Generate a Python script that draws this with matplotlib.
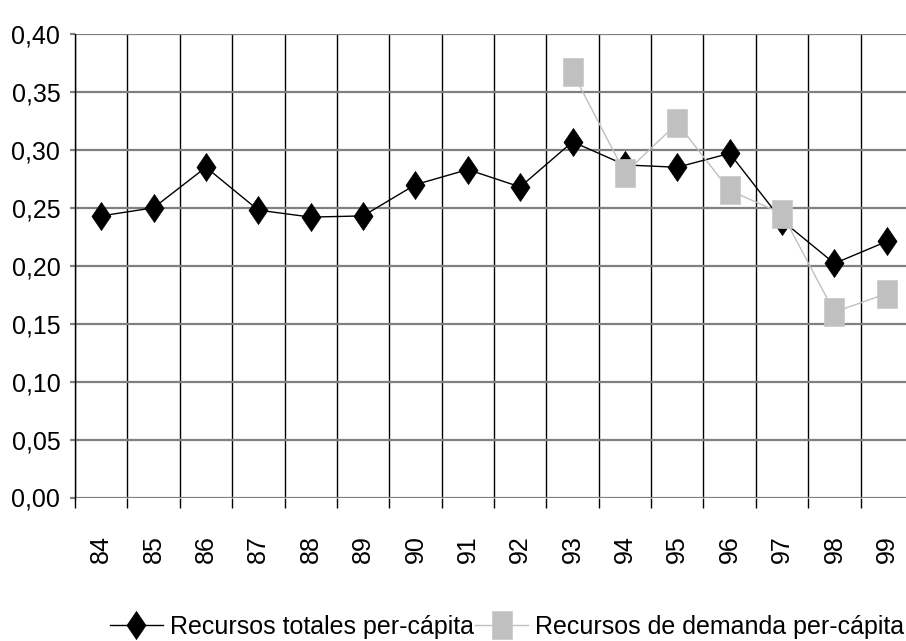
import numpy as np
import matplotlib
matplotlib.use("Agg")
import matplotlib.pyplot as plt
from matplotlib.path import Path

plt.rcParams['font.family'] = ['Liberation Sans', 'DejaVu Sans']

# ---- data ----
years = ["84", "85", "86", "87", "88", "89", "90", "91", "92", "93", "94", "95", "96", "97", "98", "99"]
totales = [0.243, 0.250, 0.285, 0.248, 0.242, 0.243, 0.270, 0.283, 0.268, 0.307, 0.287, 0.285, 0.297, 0.239, 0.202, 0.221]
demanda = [None, None, None, None, None, None, None, None, None, 0.367, 0.280, 0.323, 0.265, 0.245, 0.160, 0.176]
y_ticks = [0.00, 0.05, 0.10, 0.15, 0.20, 0.25, 0.30, 0.35, 0.40]
y_tick_labels = ["0,00", "0,05", "0,10", "0,15", "0,20", "0,25", "0,30", "0,35", "0,40"]
label_totales = "Recursos totales per-cápita"
label_demanda = "Recursos de demanda per-cápita"

W, H = 906, 641
fig = plt.figure(figsize=(W / 100, H / 100), dpi=100)
ax = fig.add_axes([75 / W, (H - 497.5) / H, 838 / W, 463.5 / H])

x = np.arange(len(years))
dem = np.array([np.nan if v is None else v for v in demanda], dtype=float)

diamond = Path([(0, 0.5), (0.34, 0), (0, -0.5), (-0.34, 0), (0, 0.5)],
               [Path.MOVETO, Path.LINETO, Path.LINETO, Path.LINETO, Path.CLOSEPOLY])
rect = Path([(-0.36, -0.5), (0.36, -0.5), (0.36, 0.5), (-0.36, 0.5), (-0.36, -0.5)],
            [Path.MOVETO, Path.LINETO, Path.LINETO, Path.LINETO, Path.CLOSEPOLY])

ax.plot(x, totales, color='black', lw=1.0, marker=diamond, markersize=20.2,
        mfc='black', mec='black', mew=0.5, label=label_totales, zorder=4, clip_on=False)
ax.plot(x, dem, color='#C0C0C0', lw=1.0, marker=rect, markersize=20.2,
        mfc='#C0C0C0', mec='#C8C8C8', mew=0.5, label=label_demanda, zorder=5, clip_on=False)

ax.set_xlim(-0.5, len(years) - 0.5)
ax.set_ylim(0, 0.40)

FS = 18

# horizontal gridlines (gray)
ax.set_yticks(y_ticks)
ax.set_yticklabels(y_tick_labels, fontsize=FS)
ax.yaxis.grid(True, color='#808080', lw=1.6)
ax.tick_params(axis='y', length=3.6, width=1.6, color='#808080', pad=7)

# vertical gridlines at category boundaries (black)
ax.set_xticks(x)
ax.set_xticklabels(years, rotation=90, fontsize=FS, va='top', ha='center')
ax.set_xticks(np.arange(-0.5, len(years)), minor=True)
ax.tick_params(axis='x', which='major', length=0, pad=27)
ax.tick_params(axis='x', which='minor', length=7.2, width=1.0, color='black')
ax.xaxis.grid(True, which='minor', color='black', lw=1.0)
ax.xaxis.grid(False, which='major')
ax.set_axisbelow(True)

for s in ['top', 'right', 'bottom']:
    ax.spines[s].set_visible(False)
ax.spines['left'].set_color('black')
ax.spines['left'].set_linewidth(1.0)

leg = fig.legend(loc='center left', bbox_to_anchor=(110 / W, (H - 627) / H),
                 ncol=2, frameon=False, fontsize=FS, handlelength=2.1,
                 handletextpad=0.3, columnspacing=0.05, borderpad=0, borderaxespad=0)

fig.savefig("out.png", dpi=100)
